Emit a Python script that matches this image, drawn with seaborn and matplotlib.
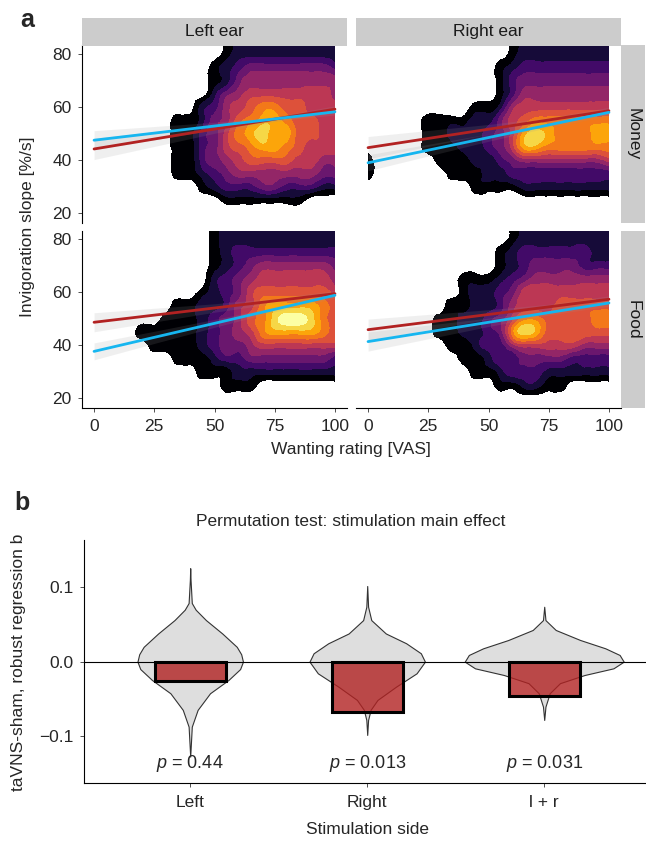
import numpy as np
import matplotlib.pyplot as plt
import matplotlib.tri as mtri
import seaborn as sns

sns.set_style("white")
plt.rcParams['font.family'] = ['Liberation Sans', 'DejaVu Sans']
plt.rcParams['mathtext.fontset'] = 'custom'
plt.rcParams['mathtext.it'] = 'Liberation Sans:italic'
plt.rcParams['mathtext.rm'] = 'Liberation Sans'

W, H = 646, 843

# ---------------- panel a ----------------
# density bands: one hex digit per grid node
# (0 = empty, 1 = black ... b = palest yellow of inferno)
wanting = np.arange(0, 101, 5)
slope = np.arange(85, 14, -5)

dens_left_money = [
    "000000000001222222222",
    "000000000001222222222",
    "000000000012344444443",
    "000000000012455555555",
    "000000000024566666665",
    "000000000235678877666",
    "000000011245789987766",
    "00000001134689a997766",
    "000000011346789987666",
    "000000011345677776655",
    "000000011234555555544",
    "000000000123334433322",
    "000000000001111111000",
    "000000000000000000000",
    "000000000000000000000",
]
dens_right_money = [
    "000000000000122222222",
    "000000000000122222222",
    "000000000001233333333",
    "000000000001344444444",
    "000000000001355555555",
    "000000000112566666666",
    "000001111224678888888",
    "00000112223469a988899",
    "000001112234699888888",
    "100000111223455555556",
    "100000011122333333333",
    "000000000111122222222",
    "000000000000000000000",
    "000000000000000000000",
    "000000000000000000000",
]
dens_left_food = [
    "000000000012222222222",
    "000000000012222222222",
    "000000000012333333333",
    "000000000012345555554",
    "000000000023456666665",
    "000000000123467777776",
    "000000011223568999987",
    "000000111234578abba87",
    "000011111234568999987",
    "000001111234456666666",
    "000000011123344444443",
    "000000000111222222222",
    "000000000001110000000",
    "000000000000000000000",
    "000000000000000000000",
]
dens_right_food = [
    "000000000000122222222",
    "000000000000122222222",
    "000000000001233333322",
    "000000000001234444333",
    "000000001112345555555",
    "000000001223466666666",
    "000000011223566677777",
    "000000112234688777788",
    "0000001122348a9777777",
    "000000011233566666555",
    "000000001123344443333",
    "000000000112333222222",
    "000000000001122110000",
    "000000000000000000000",
    "000000000000000000000",
]

# fitted lines: value at wanting = 0 and 100
fit_x = [0, 100]
red_left_money, blue_left_money = [44.2, 59.2], [47.5, 58.2]
red_right_money, blue_right_money = [44.7, 58.6], [39.0, 58.0]
red_left_food, blue_left_food = [48.7, 59.5], [37.7, 58.9]
red_right_food, blue_right_food = [45.9, 57.4], [41.4, 56.0]

# half-width of the confidence ribbons
band_x = [0, 25, 50, 75, 100]
se_red_left_money, se_blue_left_money = [4.0, 2.8, 1.6, 0.9, 1.3], [3.6, 2.5, 1.4, 0.8, 1.2]
se_red_right_money, se_blue_right_money = [4.2, 3.0, 1.8, 1.0, 1.3], [3.0, 2.2, 1.4, 0.9, 1.2]
se_red_left_food, se_blue_left_food = [3.6, 2.6, 1.6, 1.0, 1.2], [3.2, 2.3, 1.5, 0.9, 1.1]
se_red_right_food, se_blue_right_food = [4.0, 2.9, 1.8, 1.0, 1.3], [3.6, 2.6, 1.6, 0.9, 1.2]

x_ticks_a = [0, 25, 50, 75, 100]
y_ticks_a = [20, 40, 60, 80]

# ---------------- panel b ----------------
sides = ['Left', 'Right', 'l + r']
stim_effect = [-0.0256, -0.0674, -0.0458]
p_values = ['0.44', '0.013', '0.031']

viol_left_y = [0.126, 0.110, 0.079, 0.070, 0.056, 0.038, 0.020, 0.010, 0.0, -0.010, -0.0247, -0.0426, -0.065, -0.0876, -0.128]
viol_left_w = [0, 0.002, 0.009, 0.031, 0.089, 0.181, 0.263, 0.288, 0.298, 0.282, 0.216, 0.112, 0.042, 0.009, 0]
viol_right_y = [0.102, 0.074, 0.056, 0.038, 0.0248, 0.0113, 0.0, -0.0157, -0.0337, -0.0516, -0.065, -0.0786, -0.0988]
viol_right_w = [0, 0.005, 0.023, 0.105, 0.220, 0.303, 0.326, 0.279, 0.163, 0.058, 0.019, 0.005, 0]
viol_lr_y = [0.074, 0.056, 0.0427, 0.0292, 0.018, 0.009, 0.0, -0.009, -0.018, -0.029, -0.0426, -0.0606, -0.0786]
viol_lr_w = [0, 0.007, 0.065, 0.203, 0.345, 0.426, 0.449, 0.391, 0.228, 0.089, 0.031, 0.007, 0]
y_ticks_b = [-0.1, 0.0, 0.1]
y_tick_labels_b = ['\u22120.1', '0.0', '0.1']

fig = plt.figure(figsize=(W / 100, H / 100), dpi=100)


def px_axes(x0, y0, x1, y1):
    return fig.add_axes([x0 / W, 1 - y1 / H, (x1 - x0) / W, (y1 - y0) / H])


cmap = plt.get_cmap('inferno')
band_colors = [cmap(i / 10) for i in range(11)]
levels = np.arange(0.5, 11.6, 1)

gx, gy = np.meshgrid(wanting, slope)
grid_tri = mtri.Triangulation(gx.ravel(), gy.ravel())
refiner = mtri.UniformTriRefiner(grid_tri)

panels = [
    (dens_left_money, red_left_money, blue_left_money, se_red_left_money, se_blue_left_money, (82, 45.5, 347, 223), True, False),
    (dens_right_money, red_right_money, blue_right_money, se_red_right_money, se_blue_right_money, (356, 45.5, 621, 223), False, False),
    (dens_left_food, red_left_food, blue_left_food, se_red_left_food, se_blue_left_food, (82, 231, 347, 408), True, True),
    (dens_right_food, red_right_food, blue_right_food, se_red_right_food, se_blue_right_food, (356, 231, 621, 408), False, True),
]

for dens, red, blue, se_r, se_b, box, show_y, show_x in panels:
    ax = px_axes(*box)
    Z = np.array([[int(c, 16) for c in row] for row in dens], dtype=float).ravel()
    # smooth contour outlines through a refined mesh of the read grid
    interp = mtri.CubicTriInterpolator(grid_tri, Z, kind='min_E')
    fine_tri, fine_z = refiner.refine_field(Z, triinterpolator=interp, subdiv=3)
    ax.tricontourf(fine_tri, fine_z, levels=levels, colors=band_colors)
    for line, se in ((red, se_r), (blue, se_b)):
        centre = line[0] + (line[1] - line[0]) * np.array(band_x) / 100
        ax.fill_between(band_x, centre - np.array(se), centre + np.array(se),
                        color='#999999', alpha=0.15, lw=0)
    sns.lineplot(x=fit_x, y=red, color='#b22222', lw=2, ax=ax)
    sns.lineplot(x=fit_x, y=blue, color='#16b6f0', lw=2, ax=ax)
    ax.set_xlim(-5, 105)
    ax.set_ylim(16.3, 83.2)
    for s in ax.spines.values():
        s.set_visible(False)
    ax.tick_params(length=3.1, width=0.6, color='#333333', labelsize=12.5)
    ax.tick_params(axis='y', pad=4.2)
    ax.tick_params(axis='x', pad=4.5)
    if show_y:
        ax.spines['left'].set_visible(True)
        ax.spines['left'].set_color('black')
        ax.spines['left'].set_linewidth(0.8)
        ax.set_yticks(y_ticks_a)
        ax.tick_params(axis='y', left=True)
    else:
        ax.set_yticks([])
    if show_x:
        ax.spines['bottom'].set_visible(True)
        ax.spines['bottom'].set_color('black')
        ax.spines['bottom'].set_linewidth(0.8)
        ax.set_xticks(x_ticks_a)
        ax.tick_params(axis='x', bottom=True)
    else:
        ax.set_xticks([])
    ax.set_xlabel('')
    ax.set_ylabel('')

strips = [((82, 18, 347, 45.5), 'Left ear', 0), ((356, 18, 621, 45.5), 'Right ear', 0),
          ((621, 45.5, 645, 223), 'Money', -90), ((621, 231, 645, 408), 'Food', -90)]
for box, label, rot in strips:
    sa = px_axes(*box)
    sa.set_facecolor('#cccccc')
    sa.set_xticks([])
    sa.set_yticks([])
    for s in sa.spines.values():
        s.set_visible(False)
    sa.text(0.5, 0.5, label, rotation=rot, ha='center', va='center',
            fontsize=12.5, color='#1a1a1a', transform=sa.transAxes)

fig.text(27 / W, 1 - 20 / H, 'a', fontsize=18, fontweight='bold', ha='center', va='center')
fig.text(28 / W, 1 - 227 / H, 'Invigoration slope [%/s]', rotation=90,
         ha='center', va='center', fontsize=12.5)
fig.text(351 / W, 1 - 450 / H, 'Wanting rating [VAS]', ha='center', va='center', fontsize=12.5)

# ---------------- panel b drawing ----------------
axb = px_axes(84, 540, 646, 783.3)
violins = [(viol_left_y, viol_left_w), (viol_right_y, viol_right_w), (viol_lr_y, viol_lr_w)]
for i, (vy, vw) in enumerate(violins):
    vw = np.array(vw)
    axb.fill_betweenx(vy, i - vw, i + vw, facecolor='#dedede', edgecolor='#333333',
                      lw=0.8, zorder=1)
axb.axhline(0, color='black', lw=0.8, zorder=2)
sns.barplot(x=sides, y=stim_effect, width=0.4, color='#b22222', edgecolor='black',
            linewidth=2.2, errorbar=None, ax=axb)
for bar in axb.patches:
    bar.set_facecolor((0.698, 0.133, 0.133, 0.8))
    bar.set_zorder(3)
for i, p in enumerate(p_values):
    axb.text(i, -0.137, '$p$ = ' + p, ha='center', va='center', fontsize=13)

axb.set_xlim(-0.6, 2.575)
axb.set_ylim(-0.164, 0.164)
axb.set_yticks(y_ticks_b)
axb.set_yticklabels(y_tick_labels_b)
sns.despine(ax=axb)
for s in ('left', 'bottom'):
    axb.spines[s].set_color('black')
    axb.spines[s].set_linewidth(0.8)
axb.tick_params(left=True, bottom=True, length=3.1, width=0.6, color='#333333',
                labelsize=12.5)
axb.tick_params(axis='y', pad=4.2)
axb.tick_params(axis='x', pad=5)
axb.set_xlabel('')
axb.set_ylabel('')

fig.text(22 / W, 1 - 503 / H, 'b', fontsize=18, fontweight='bold', ha='center', va='center')
fig.text(351 / W, 1 - 522 / H, 'Permutation test: stimulation main effect',
         ha='center', va='center', fontsize=12.5)
fig.text(19 / W, 1 - 662 / H, 'taVNS-sham, robust regression b', rotation=90,
         ha='center', va='center', fontsize=12.5)
fig.text(368 / W, 1 - 830 / H, 'Stimulation side', ha='center', va='center', fontsize=12.5)

fig.savefig('out.png', dpi=100)
